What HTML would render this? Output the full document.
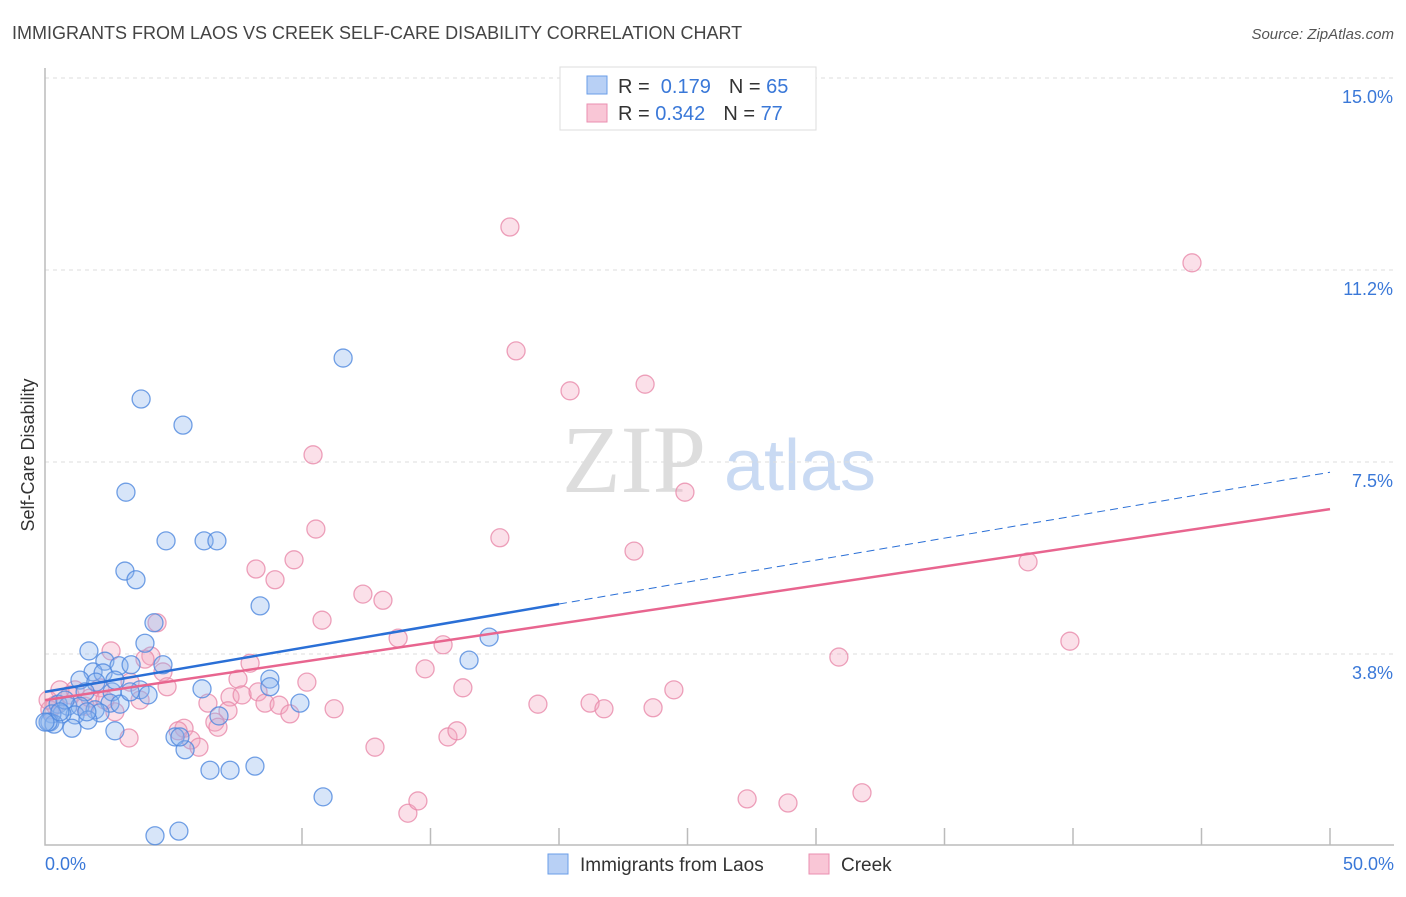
<!DOCTYPE html>
<html><head><meta charset="utf-8"><style>
body{margin:0;background:#fff;font-family:"Liberation Sans",sans-serif}
</style></head><body>
<svg width="1406" height="892" xmlns="http://www.w3.org/2000/svg" style="font-family:'Liberation Sans',sans-serif">
<text x="12" y="39" font-size="18" fill="#444">IMMIGRANTS FROM LAOS VS CREEK SELF-CARE DISABILITY CORRELATION CHART</text>
<text x="1394" y="39" font-size="15" fill="#555" font-style="italic" text-anchor="end">Source: ZipAtlas.com</text>
<g><text x="634" y="492" font-size="96" font-family="Liberation Serif,serif" fill="#ddd" text-anchor="middle">ZIP</text><text x="800" y="490" font-size="72" fill="#c9daf3" text-anchor="middle">atlas</text></g>
<g id="grid"></g><g id="axes"></g><g id="marks"></g><g id="lines"></g>
<text x="34" y="455" font-size="18" fill="#333" text-anchor="middle" transform="rotate(-90 34 455)">Self-Care Disability</text>
<text x="45" y="870" font-size="18" fill="#3a78d8">0.0%</text>
<text x="1394" y="870" font-size="18" fill="#3a78d8" text-anchor="end">50.0%</text>
<g>
<rect x="560" y="67" width="256" height="63" fill="#fff" stroke="#ddd"/>
<rect x="587" y="76" width="20" height="18" fill="#b8d0f5" stroke="#6a9ee8"/>
<rect x="587" y="104" width="20" height="18" fill="#f9c6d6" stroke="#ea8fb0"/>
<text x="618" y="93" font-size="20" fill="#333">R = <tspan fill="#3a78d8">&#160;0.179</tspan><tspan dx="18">N = </tspan><tspan fill="#3a78d8">65</tspan></text>
<text x="618" y="120" font-size="20" fill="#333">R = <tspan fill="#3a78d8">0.342</tspan><tspan dx="18">N = </tspan><tspan fill="#3a78d8">77</tspan></text>
</g>
<g>
<rect x="548" y="854" width="20" height="20" fill="#b8d0f5" stroke="#6a9ee8"/>
<text x="580" y="871" font-size="19" fill="#333">Immigrants from Laos</text>
<rect x="809" y="854" width="20" height="20" fill="#f9c6d6" stroke="#ea8fb0"/>
<text x="841" y="871" font-size="19" fill="#333">Creek</text>
</g>
</svg>
<script>
const yTicks=[3.75,7.5,11.25,15];
const yTickLabels=["3.8%","7.5%","11.2%","15.0%"];
const xTicks=[10,15,20,25,30,35,40,45,50];
const blueX=[3.74,5.37,11.6,3.15,4.71,6.19,6.69,3.11,3.54,8.37,4.24,3.89,1.71,2.33,2.88,3.35,4.59,1.87,2.26,1.36,1.98,2.61,1.56,3.7,4.01,6.11,8.75,8.75,2.53,2.92,0.51,0.89,1.36,1.95,2.14,1.17,0.66,0.27,1.67,0.19,0.35,1.05,0.12,2.72,5.06,5.45,5.25,6.77,9.92,16.5,17.28,6.42,7.2,8.17,10.82,4.28,5.21,3.31,0.78,0.58,2.72,1.63,0.0];
const blueY=[8.73,8.22,9.53,6.91,5.96,5.96,5.96,5.37,5.2,4.69,4.36,3.96,3.81,3.61,3.52,3.54,3.54,3.4,3.38,3.24,3.2,3.01,3.01,3.05,2.95,3.07,3.26,3.11,2.79,2.77,2.77,2.73,2.73,2.66,2.6,2.56,2.58,2.58,2.46,2.42,2.38,2.3,2.42,2.25,2.13,1.88,2.13,2.54,2.79,3.63,4.08,1.48,1.48,1.56,0.96,0.2,0.29,3.01,2.85,2.62,3.24,2.62,2.42];
const pinkX=[18.09,44.63,18.33,20.43,23.35,10.43,24.9,10.54,17.7,22.92,38.25,8.21,9.69,8.95,12.37,13.15,10.78,4.36,13.74,15.49,39.88,30.89,4.12,3.89,2.57,4.59,7.98,14.79,4.75,10.19,7.51,16.26,24.47,2.14,3.31,7.2,6.34,7.67,8.29,8.56,9.11,9.53,11.25,19.18,21.21,21.75,23.66,7.12,6.61,6.73,5.41,5.18,5.68,5.99,12.84,15.68,16.03,3.27,2.72,1.56,0.97,0.39,1.75,1.17,14.12,14.51,27.32,28.91,31.79,0.19,0.58,3.7,2.33,0.12];
const pinkY=[12.09,11.39,9.67,8.89,9.02,7.64,6.91,6.19,6.02,5.76,5.55,5.41,5.59,5.2,4.92,4.8,4.41,4.36,4.06,3.93,4.0,3.69,3.71,3.65,3.81,3.4,3.57,3.46,3.11,3.2,3.26,3.09,3.05,3.09,3.2,2.91,2.79,2.95,3.01,2.79,2.75,2.58,2.68,2.77,2.79,2.68,2.7,2.64,2.42,2.32,2.3,2.25,2.07,1.93,1.93,2.13,2.25,2.11,2.62,2.73,2.95,2.75,2.89,3.05,0.64,0.88,0.92,0.84,1.04,2.66,3.05,2.85,2.85,2.85];
const blueTrend=[3.01,7.3];
const pinkTrend=[2.85,6.58];
const blueSolidEnd=20;
const NS="http://www.w3.org/2000/svg";
const X=v=>45+v*25.7, Y=v=>846-v*51.2;
function mk(t,a,p){const e=document.createElementNS(NS,t);for(const k in a)e.setAttribute(k,a[k]);p.appendChild(e);return e;}
const grid=document.getElementById('grid'),axes=document.getElementById('axes'),marks=document.getElementById('marks'),lines=document.getElementById('lines');
yTicks.forEach((t,i)=>{
 const g=mk('line',{x1:45,x2:1394,y1:Y(t),y2:Y(t),stroke:'#ddd','stroke-dasharray':'4,4'},grid);
 
 
 const l=mk('text',{x:1393,y:Y(t)+25,'font-size':18,fill:'#3a78d8','text-anchor':'end'},grid);
 l.textContent=yTickLabels[i];
 
 
});
const ax=mk('path',{d:'M45,68V845H1394',fill:'none',stroke:'#bbb','stroke-width':1.5},axes);


xTicks.forEach(v=>{const t=mk('line',{x1:X(v),x2:X(v),y1:828,y2:845,stroke:'#bbb','stroke-width':1.5},axes);
 
 });
function pts(xs,ys,fill,stroke,name){xs.forEach((x,i)=>{const c=mk('circle',{cx:X(x),cy:Y(ys[i]),r:9,fill:fill,'fill-opacity':0.35,stroke:stroke,'stroke-width':1.3,'stroke-opacity':0.8},marks);
 
 });}
pts(pinkX,pinkY,'#f4a6bf','#e88aaa','creek-point');
pts(blueX,blueY,'#8cb4ee','#4f88de','laos-point');
const bAt=v=>blueTrend[0]+(blueTrend[1]-blueTrend[0])*v/50;
let l1=mk('line',{x1:X(0),y1:Y(bAt(0)),x2:X(blueSolidEnd),y2:Y(bAt(blueSolidEnd)),stroke:'#2a6fd6','stroke-width':2.5},lines);


let l2=mk('line',{x1:X(blueSolidEnd),y1:Y(bAt(blueSolidEnd)),x2:X(50),y2:Y(bAt(50)),stroke:'#2a6fd6','stroke-width':1,'stroke-dasharray':'8,5'},lines);


let l3=mk('line',{x1:X(0),y1:Y(pinkTrend[0]),x2:X(50),y2:Y(pinkTrend[1]),stroke:'#e8658f','stroke-width':2.5},lines);


</script>
</body></html>
